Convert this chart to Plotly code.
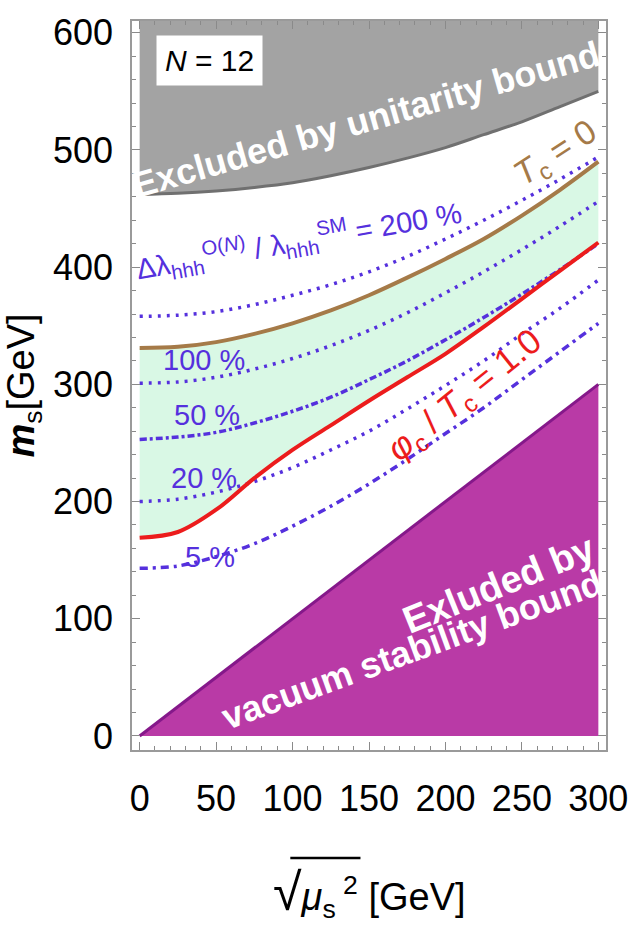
import plotly.graph_objects as go

# Parameter grid: sqrt(mu_S^2) in GeV
MU_S = [0, 25, 50, 75, 100, 125, 150, 175, 200, 225, 250, 275, 300]

# Boundaries (m_S in GeV)
UNITARITY = [462, 463, 465, 468, 472, 478, 485, 493, 502, 513, 524, 537, 550]
TC_ZERO = [331, 332, 336, 343, 352, 363, 376, 391, 407, 424, 444, 466, 490]
PHI_OVER_TC_1 = [169, 174, 193, 220, 244, 265, 286, 306, 326, 349, 373, 397, 421]

# Contours of Delta lambda_hhh / lambda_hhh^SM
DL_200 = [358, 359, 362, 368, 376, 385, 396, 409, 424, 440, 457, 475, 494]
DL_100 = [301, 302, 306, 313, 322, 333, 346, 361, 378, 396, 415, 435, 456]
DL_50 = [253, 255, 259, 267, 277, 289, 304, 320, 338, 357, 377, 398, 420]
DL_20 = [200, 202, 208, 217, 229, 244, 260, 279, 299, 320, 343, 365, 389]
DL_5 = [143, 145, 153, 164, 179, 196, 215, 236, 258, 280, 304, 328, 352]

# Vacuum stability edge: m_S = sqrt(mu_S^2)
VAC_X = [0, 300]
VAC_Y = [0, 300]

X_RANGE = [-5, 305]
Y_RANGE = [-12, 610]
Y_TOP = [Y_RANGE[1]] * len(MU_S)

FONT = "Liberation Sans, Arial, Helvetica, sans-serif"
VIOLET = "#5530dd"
BROWN = "#a57a48"
RED = "#ec1c1c"
GRAY = "#a3a3a3"
MINT = "#d9f8e5"
MAGENTA = "#b93aa6"

fig = go.Figure()

# Excluded by vacuum stability
fig.add_trace(go.Scatter(x=VAC_X, y=VAC_Y, mode="lines", fill="tozeroy",
                         fillcolor=MAGENTA, line=dict(color="#85188a", width=3)))

# Strong first-order phase transition band
fig.add_trace(go.Scatter(x=MU_S, y=PHI_OVER_TC_1, mode="lines",
                         line=dict(width=0, shape="spline")))
fig.add_trace(go.Scatter(x=MU_S, y=TC_ZERO, mode="lines", fill="tonexty",
                         fillcolor=MINT, line=dict(width=0, shape="spline")))

# Excluded by unitarity
fig.add_trace(go.Scatter(x=MU_S, y=UNITARITY, mode="lines",
                         line=dict(width=0, shape="spline")))
fig.add_trace(go.Scatter(x=MU_S, y=Y_TOP, mode="lines", fill="tonexty",
                         fillcolor=GRAY, line=dict(width=0)))
fig.add_trace(go.Scatter(x=MU_S, y=UNITARITY, mode="lines",
                         line=dict(color="#707070", width=3, shape="spline")))

# Contour lines
dot = "3px,6px"
dashdot50 = "7px,3px,3px,3px"
dashdot5 = "8px,5px,3px,5px"
for ys, dash in [(DL_200, dot), (DL_100, dot), (DL_50, dashdot50),
                 (DL_20, dot), (DL_5, dashdot5)]:
    fig.add_trace(go.Scatter(x=MU_S, y=ys, mode="lines",
                             line=dict(color=VIOLET, width=3.5, dash=dash, shape="spline")))

fig.add_trace(go.Scatter(x=MU_S, y=TC_ZERO, mode="lines",
                         line=dict(color=BROWN, width=4, shape="spline")))
fig.add_trace(go.Scatter(x=MU_S, y=PHI_OVER_TC_1, mode="lines",
                         line=dict(color=RED, width=4, shape="spline")))


def label(x, y, text, size, color, angle=0, bold=False, **kw):
    fig.add_annotation(x=x, y=y, xref="x", yref="y", text=f"<b>{text}</b>" if bold else text,
                       showarrow=False, textangle=angle,
                       font=dict(family=FONT, size=size, color=color), **kw)


label(45.6, 576, "<i>N</i> = 12", 30, "black", bgcolor="white", borderpad=8)
label(148, 526, "Excluded by unitarity bound", 36, "white", angle=-16, bold=True)
label(235, 130, "Exluded by", 38, "white", angle=-22, bold=True)
label(178, 74, "vacuum stability bound", 36, "white", angle=-20, bold=True)
label(272, 496, "<i>T</i><sub>c</sub> = 0", 34, BROWN, angle=-33)
label(104, 422, "Δλ<sub>hhh</sub><sup>O(<i>N</i>)</sup> / λ<sub>hhh</sub><sup>SM</sup> = 200 %",
      29, VIOLET, angle=-10)
label(42, 321, "100 %", 29, VIOLET)
label(44, 274, "50 %", 29, VIOLET)
label(42, 220, "20 %", 29, VIOLET)
label(46, 153, "5 %", 29, VIOLET)
label(213, 290, "<i>φ</i><sub>c</sub> / <i>T</i><sub>c</sub> = 1.0", 35, RED, angle=-39)

# x-axis title with a square-root sign and its vinculum
fig.add_annotation(x=0.5, y=-0.197, xref="paper", yref="paper", showarrow=False,
                   yanchor="middle",
                   text="<span style='font-size:52px'>√</span><i>μ</i><sub>s</sub><sup> 2</sup> [GeV]",
                   font=dict(family=FONT, size=38, color="black"))
fig.add_shape(type="line", xref="paper", yref="paper", x0=0.334, x1=0.482,
              y0=-0.148, y1=-0.148, line=dict(color="black", width=2.5))

axis_common = dict(showgrid=False, zeroline=False, showline=True, mirror="allticks",
                   linecolor="#9a9a9a", linewidth=1.5, ticks="inside", ticklen=8,
                   tickcolor="#8a8a8a", tickwidth=1, ticklabeloverflow="allow",
                   tickfont=dict(family=FONT, size=36, color="black"))

fig.update_layout(
    width=640, height=932,
    margin=dict(l=128, r=22, t=15, b=182),
    paper_bgcolor="white", plot_bgcolor="white",
    showlegend=False,
    xaxis=dict(range=X_RANGE, dtick=50, tick0=0, ticklabelstandoff=16,
               minor=dict(ticks="inside", ticklen=4, dtick=10, tickcolor="#8a8a8a"),
               **axis_common),
    yaxis=dict(range=Y_RANGE, dtick=100, tick0=0, ticklabelstandoff=10,
               minor=dict(ticks="inside", ticklen=4, dtick=20, tickcolor="#8a8a8a"),
               title=dict(text="<b><i>m</i></b><sub>s</sub>[GeV]", standoff=14,
                          font=dict(family=FONT, size=38, color="black")),
               **axis_common),
)

fig.write_html("out.html")
